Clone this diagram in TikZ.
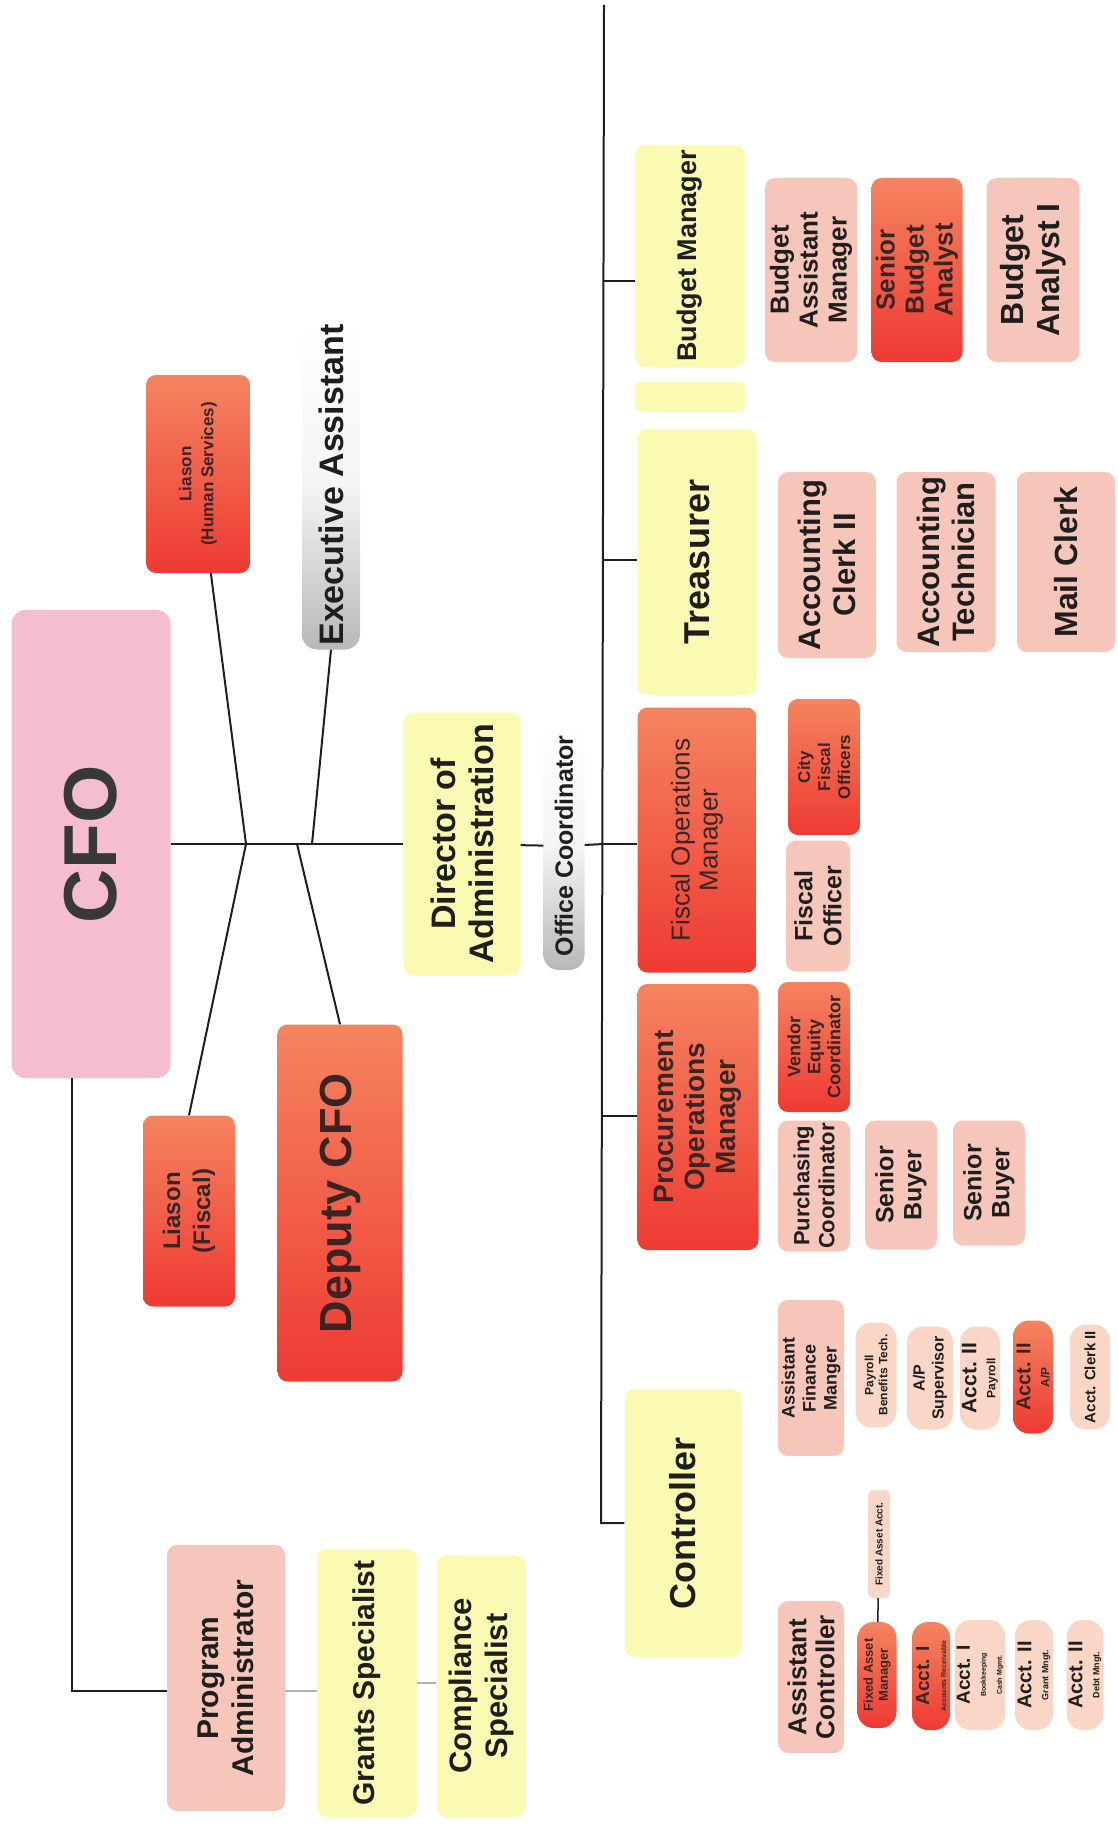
\documentclass[tikz,border=0pt]{standalone}
\usepackage{fontspec}
\setmainfont{Liberation Sans}
\usetikzlibrary{calc}

\definecolor{ink}{HTML}{1E1E1E}
\definecolor{redink}{HTML}{3A2424}
\definecolor{pinkbg}{HTML}{F4BDD0}
\definecolor{yel}{HTML}{FBFAB2}
\definecolor{peach}{HTML}{F7C6BA}
\definecolor{pale}{HTML}{F9D6C6}
\definecolor{redhi}{HTML}{F48460}
\definecolor{redlo}{HTML}{EE3A33}
\definecolor{grayhi}{HTML}{B8B8B8}

\newcommand{\setfs}[2]{\fontsize{#1}{#2}\selectfont}

\tikzset{
    post/.style={rotate=90, rounded corners=10pt, align=center, inner sep=2pt, font=\bfseries, text=ink},
    sz/.style 2 args={minimum width=#1pt, minimum height=#2pt},
    fs/.style 2 args={font=\bfseries\setfs{#1}{#2}},
    yellow post/.style={post, fill=yel},
    peach post/.style={post, fill=peach},
    pink post/.style={post, fill=pinkbg, rounded corners=14pt},
    red post/.style={post, top color=redhi, bottom color=redlo, text=redink},
    gray post/.style={post, top color=white, bottom color=grayhi, middle color=white!85!grayhi, rounded corners=15pt},
    pill/.style={post, fill=pale, rounded corners=16pt},
    red pill/.style={red post, rounded corners=16pt},
    link/.style={draw=ink, line width=2pt},
    soft link/.style={draw=gray!60, line width=2pt}
}

\begin{document}
\begin{tikzpicture}[x=1pt, y=-1pt]
    \useasboundingbox (0,0) rectangle (1118,1827);

    % Top level
    \node[pink post, sz={468}{159}, fs={75}{80}, text=black!78] (cfo) at (91,844) {CFO};
    \node[red post, sz={198}{104}, fs={17}{22}] (lhs) at (198,474) {Liason\\(Human Services)};
    \node[gray post, sz={329}{58}, fs={34}{38}] (ea) at (331,485) {Executive Assistant};
    \node[red post, sz={191}{92}, fs={24}{30}] (lfis) at (189,1211) {Liason\\(Fiscal)};
    \node[red post, sz={357}{125}, fs={45}{50}] (dep) at (340,1203) {Deputy CFO};
    \node[yellow post, sz={263}{117}, fs={34}{38}] (dir) at (462,844) {Director of\\Administration};
    \node[gray post, sz={248}{41}, fs={25}{28}] (oc) at (564,846) {Office Coordinator};

    % Program side
    \node[peach post, sz={266}{118}, fs={30}{35}] (pa) at (226,1678) {Program\\Administrator};
    \node[yellow post, sz={268}{100}, fs={30}{34}] (gs) at (367,1683) {Grants Specialist};
    \node[yellow post, sz={262}{89}, fs={31}{36}] (cs) at (481,1686) {Compliance\\Specialist};

    % Managers
    \node[yellow post, sz={222}{110}, fs={27}{30}] (bm) at (690,256) {Budget Manager};
    \fill[yel, rounded corners=6pt] (635,382) rectangle (745,412);
    \node[yellow post, sz={266}{119}, fs={36}{40}] (tr) at (697,562) {Treasurer};
    \node[red post, sz={265}{119}, font=\setfs{26}{28}] (fom) at (697,840) {Fiscal Operations\\Manager};
    \node[red post, sz={266}{121}, fs={28}{31}] (pom) at (698,1117) {Procurement\\Operations\\Manager};
    \node[yellow post, sz={268}{117}, fs={36}{40}] (ctrl) at (683,1523) {Controller};

    % Budget staff
    \node[peach post, sz={184}{92}, fs={26}{29}] (bam) at (811,270) {Budget\\Assistant\\Manager};
    \node[red post, sz={184}{91}, fs={26}{29}] (sba) at (917,270) {Senior\\Budget\\Analyst};
    \node[peach post, sz={184}{93}, fs={32}{36}] (ba1) at (1033,270) {Budget\\Analyst I};

    % Treasury staff
    \node[peach post, sz={186}{98}, fs={31}{35}] (acc2) at (827,565) {Accounting\\Clerk II};
    \node[peach post, sz={180}{99}, fs={31}{35}] (acct) at (946,562) {Accounting\\Technician};
    \node[peach post, sz={180}{98}, fs={32}{36}] (mail) at (1066,562) {Mail Clerk};

    % Fiscal operations staff
    \node[red post, sz={136}{72}, fs={17}{20}] (cfof) at (824,767) {City\\Fiscal\\Officers};
    \node[peach post, sz={131}{64}, fs={25}{29}] (fo) at (818,906) {Fiscal\\Officer};

    % Procurement staff
    \node[red post, sz={130}{72}, fs={18}{20}] (vec) at (814,1047) {Vendor\\Equity\\Coordinator};
    \node[peach post, sz={131}{72}, fs={22}{25}] (pc) at (814,1186) {Purchasing\\Coordinator};
    \node[peach post, sz={129}{72}, fs={25}{28}] (sb1) at (901,1185) {Senior\\Buyer};
    \node[peach post, sz={125}{72}, fs={25}{28}] (sb2) at (989,1183) {Senior\\Buyer};

    % Controller staff
    \node[peach post, sz={156}{66}, fs={18}{21}] (afm) at (811,1378) {Assistant\\Finance\\Manger};
    \node[pill, sz={105}{41}, fs={12}{14}] (pbt) at (876,1375) {Payroll\\Benefits Tech.};
    \node[pill, sz={103}{46}, fs={16}{19}] (aps) at (930,1378) {A/P\\Supervisor};
    \node[pill, sz={103}{40}, fs={21}{19}] (a2p) at (980,1378) {Acct. II\\{\setfs{12}{13}Payroll}};
    \node[red pill, sz={113}{40}, fs={20}{19}] (a2ap) at (1033,1377) {Acct. II\\{\setfs{12}{13}A/P}};
    \node[pill, sz={105}{40}, fs={15}{17}] (aclk) at (1090,1377) {Acct. Clerk II};

    \node[peach post, sz={152}{66}, fs={26}{28}] (asc) at (811,1677) {Assistant\\Controller};
    \node[pill, sz={108}{22}, rounded corners=6pt, fs={10}{11}] (faa) at (879,1544) {Fixed Asset Acct.};
    \node[red pill, sz={106}{39}, fs={13}{15}] (fam) at (877,1675) {Fixed Asset\\Manager};
    \node[red pill, sz={108}{38}, fs={19}{17}] (a1r) at (931,1676) {Acct. I\\{\setfs{7}{8}Accounts Receivable}};
    \node[pill, sz={110}{35}, fs={19}{16}] (a1b) at (980,1675) {Acct. I\\{\setfs{7}{7}Bookkeeping}\\{\setfs{7}{7}Cash Mgmt.}};
    \node[pill, sz={110}{38}, fs={20}{17}] (a2g) at (1034,1675) {Acct. II\\{\setfs{9}{10}Grant Mngt.}};
    \node[pill, sz={110}{36}, fs={20}{17}] (a2d) at (1085,1675) {Acct. II\\{\setfs{9}{10}Debt Mngt.}};

    % Junctions
    \coordinate (jl) at (246,844);
    \coordinate (jd) at (297,844);
    \coordinate (je) at (312,844);
    \coordinate (pj) at (72,1691);
    \coordinate (trunktop) at (604,5);
    \coordinate (tbm) at (604,281);
    \coordinate (ttr) at (604,560);
    \coordinate (tfo) at (604,844);
    \coordinate (tpo) at (603,1116);
    \coordinate (tct) at (601,1523);

    % Links
    \draw[link] (cfo) -- (dir);
    \draw[link] (lhs) -- (jl) -- (lfis.east);
    \draw[link] (ea.west) -- (je);
    \draw[link] (jd) -- (dep.east);
    \draw[link] (dir) -- (oc);
    \draw[link] (oc) -- (tfo);
    \draw[link] (pj |- cfo.west) -- (pj) -- (pj -| pa.north);
    \draw[soft link] (pj -| pa.south) -- (pj -| gs.north);
    \draw[soft link] (gs.south) -- (gs.south -| cs.north);

    \draw[link] (trunktop) -- (tct) -- (ctrl);
    \draw[link] (tbm) -- (tbm -| bm.north);
    \draw[link] (ttr) -- (ttr -| tr.north);
    \draw[link] (tfo) -- (tfo -| fom.north);
    \draw[link] (tpo) -- (tpo -| pom.north);
    \draw[link, line width=1.5pt] (faa) -- (fam);
\end{tikzpicture}
\end{document}
